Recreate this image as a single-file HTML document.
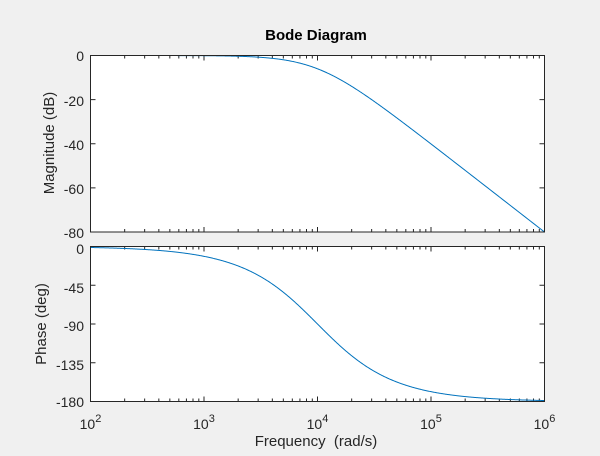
<!DOCTYPE html>
<html><head><style>
html,body{margin:0;padding:0;background:#f0f0f0;}
svg text{font-family:"Liberation Sans",Arial,sans-serif;fill:#262626;}
</style></head><body>
<svg id="s" width="600" height="451" viewBox="0 0 600 451" xmlns="http://www.w3.org/2000/svg">
<rect x="0" y="0" width="600" height="451" fill="#f0f0f0"/>
<rect x="90.5" y="55.5" width="454" height="176.5" fill="#fff"/>
<rect x="90.5" y="246.5" width="454" height="155" fill="#fff"/>
<g id="ticks" stroke="#262626" stroke-width="1" fill="none"></g>
<path id="mag" fill="none" stroke="#0072bd" stroke-width="1"/>
<path id="ph" fill="none" stroke="#0072bd" stroke-width="1"/>
<rect x="90.5" y="55.5" width="454" height="176.5" fill="none" stroke="#262626"/>
<rect x="90.5" y="246.5" width="454" height="155" fill="none" stroke="#262626"/>
<text x="316" y="40" font-size="15" font-weight="bold" text-anchor="middle" style="fill:#000">Bode Diagram</text>
<g font-size="14" text-anchor="end">
<text x="84" y="61">0</text><text x="84" y="106">-20</text><text x="84" y="150">-40</text><text x="84" y="194">-60</text><text x="84" y="238">-80</text>
<text x="84" y="254">0</text><text x="84" y="293">-45</text><text x="84" y="331">-90</text><text x="84" y="370">-135</text><text x="84" y="407">-180</text>
</g>
<g font-size="14" text-anchor="middle" id="xl"></g>
<text x="316" y="446" font-size="15" text-anchor="middle">Frequency&#160; (rad/s)</text>
<text transform="translate(54,143) rotate(-90)" font-size="15" text-anchor="middle">Magnitude (dB)</text>
<text transform="translate(46,324) rotate(-90)" font-size="15" text-anchor="middle">Phase (deg)</text>
</svg>
<script>
var X0=90.5,X1=544.5,D=(X1-X0)/4;
function xp(w){return X0+(Math.log10(w)-2)*D;}
var m="",p="";
for(var i=0;i<=800;i++){var lw=2+4*i/800,w=Math.pow(10,lw),r=w/1e4;
var db=-10*Math.log10(1+r*r)*2, ph=-2*Math.atan(r)*180/Math.PI;
var x=X0+(lw-2)*D;
m+=(i?"L":"M")+x.toFixed(2)+","+(55.5+(-db)/80*176.5).toFixed(2);
p+=(i?"L":"M")+x.toFixed(2)+","+(246.5+(-ph)/180*155).toFixed(2);}
document.getElementById("mag").setAttribute("d",m);
document.getElementById("ph").setAttribute("d",p);
var t="",ns="http://www.w3.org/2000/svg";
function L(a,b,c,d){t+="M"+a+","+b+"L"+c+","+d;}
for(var e=2;e<=6;e++)for(var k=1;k<=9;k++){if(e==6&&k>1)break;var x=xp(k*Math.pow(10,e)),l=k==1?5:3;
[[55.5,232],[246.5,401.5]].forEach(function(b){L(x,b[0],x,b[0]+l);L(x,b[1],x,b[1]-l);});}
[0,20,40,60,80].forEach(function(v){var y=55.5+v/80*176.5;L(X0,y,X0+5,y);L(X1,y,X1-5,y);});
[0,45,90,135,180].forEach(function(v){var y=246.5+v/180*155;L(X0,y,X0+5,y);L(X1,y,X1-5,y);});
var g=document.getElementById("ticks"),pa=document.createElementNS(ns,"path");pa.setAttribute("d",t);g.appendChild(pa);
var xl=document.getElementById("xl");
for(var e=2;e<=6;e++){var tx=document.createElementNS(ns,"text");tx.setAttribute("x",xp(Math.pow(10,e)));tx.setAttribute("y","429");
tx.innerHTML='10<tspan font-size="11" dy="-7">'+e+'</tspan>';xl.appendChild(tx);}
</script>
</body></html>
